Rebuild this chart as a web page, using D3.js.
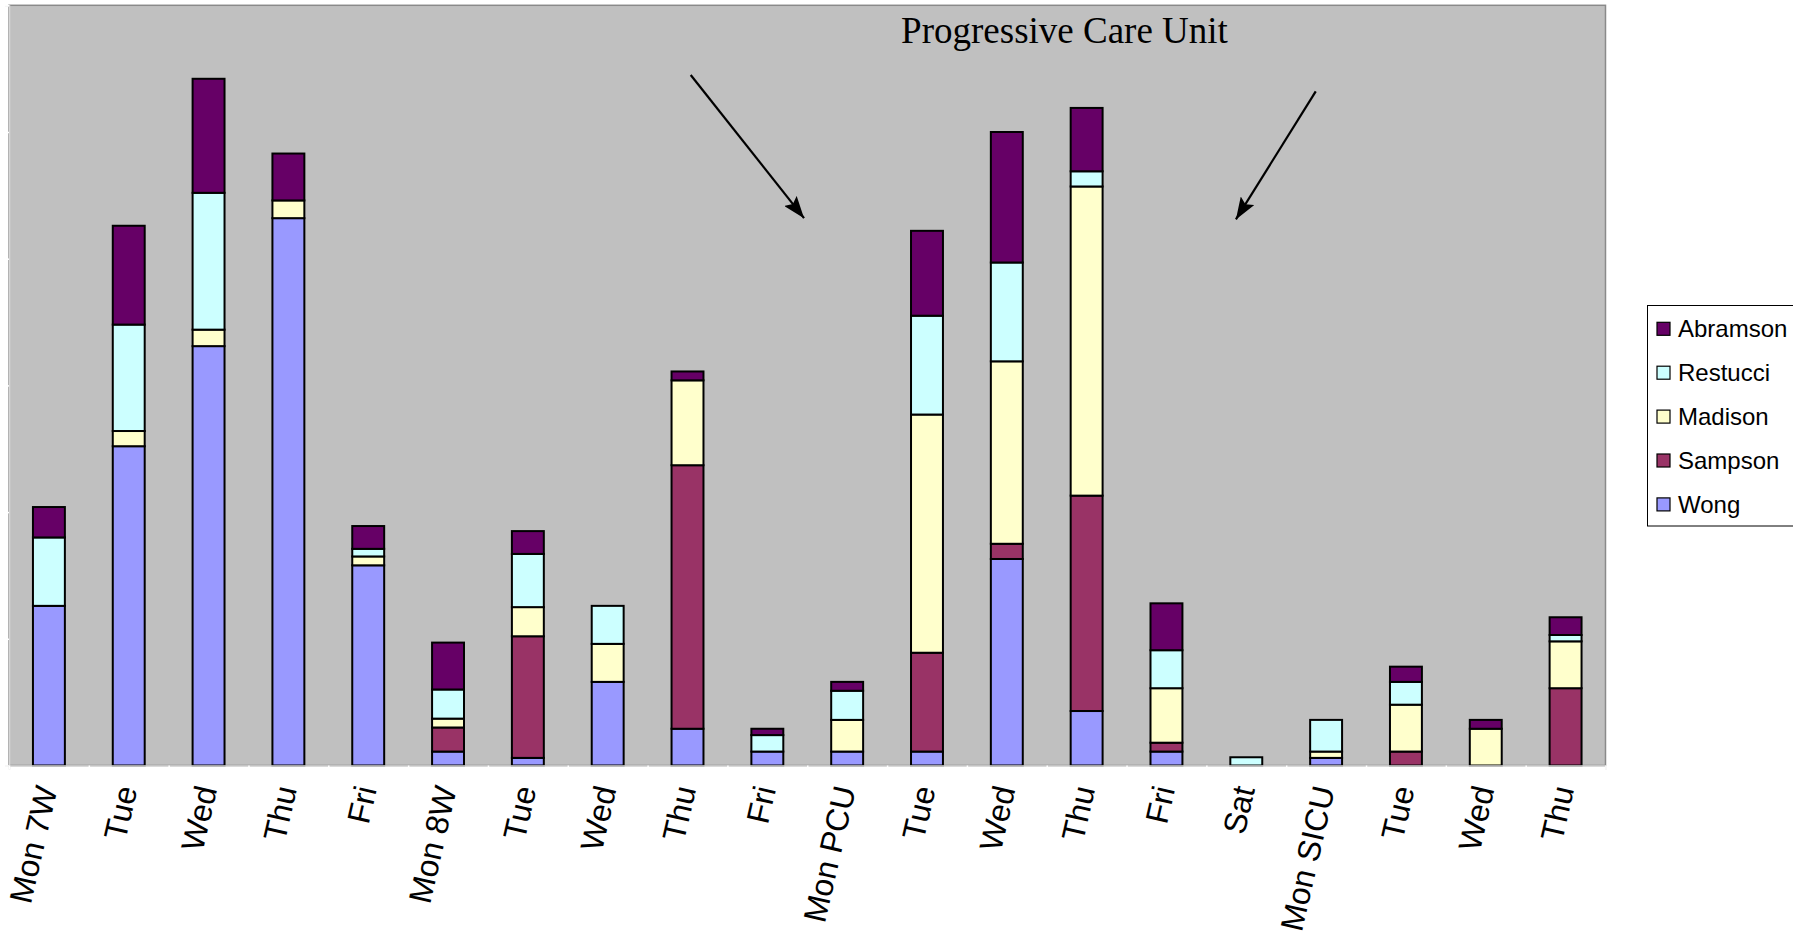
<!DOCTYPE html>
<html>
<head>
<meta charset="utf-8">
<script src="https://cdn.jsdelivr.net/npm/d3@7"></script>
<style>
  body { margin: 0; background: #ffffff; }
  svg { display: block; }
</style>
</head>
<body>
<svg id="chart" width="1793" height="939"></svg>
<script>
// Days on each unit (7W, 8W, PCU, SICU)
const categories = ["Mon 7W", "Tue", "Wed", "Thu", "Fri",
                    "Mon 8W", "Tue", "Wed", "Thu", "Fri",
                    "Mon PCU", "Tue", "Wed", "Thu", "Fri", "Sat",
                    "Mon SICU", "Tue", "Wed", "Thu"];

// Stack order, bottom to top
const seriesNames = ["Wong", "Sampson", "Madison", "Restucci", "Abramson"];

const wong     = [1.26, 2.52, 3.31, 4.32, 1.58, 0.11, 0.06, 0.66, 0.29, 0.11, 0.11, 0.11, 1.63, 0.43, 0.11, 0,     0.06, 0,    0,    0];
const sampson  = [0,    0,    0,    0,    0,    0.19, 0.96, 0,    2.08, 0,    0,    0.78, 0.12, 1.70, 0.07, 0,     0,    0.11, 0,    0.61];
const madison  = [0,    0.12, 0.13, 0.14, 0.07, 0.07, 0.23, 0.30, 0.67, 0,    0.25, 1.88, 1.44, 2.44, 0.43, 0,     0.05, 0.37, 0.29, 0.37];
const restucci = [0.54, 0.84, 1.08, 0,    0.06, 0.23, 0.42, 0.30, 0,    0.13, 0.23, 0.78, 0.78, 0.12, 0.30, 0.065, 0.25, 0.18, 0,    0.05];
const abramson = [0.24, 0.78, 0.90, 0.37, 0.18, 0.37, 0.18, 0,    0.07, 0.05, 0.07, 0.67, 1.03, 0.50, 0.37, 0,     0,    0.12, 0.07, 0.14];

const yTicks = [0, 1, 2, 3, 4, 5, 6];
const titleText = "Progressive Care Unit";

// Annotation arrows in chart units: [category position, value]
const arrowFrom = [[8.54, 5.45], [16.37, 5.32]];
const arrowTo   = [[9.96, 4.32], [15.37, 4.31]];

const colors = {
  Wong: "#9999FF",
  Sampson: "#993366",
  Madison: "#FFFFCC",
  Restucci: "#CCFFFF",
  Abramson: "#660066"
};

const seriesValues = { Wong: wong, Sampson: sampson, Madison: madison, Restucci: restucci, Abramson: abramson };
const rows = categories.map((c, i) => {
  const r = { index: i, label: c };
  seriesNames.forEach(s => { r[s] = seriesValues[s][i]; });
  return r;
});

const svg = d3.select("#chart");
const plot = { left: 9, right: 1605.5, top: 5.3, bottom: 765.5 };

const x = d3.scaleBand()
  .domain(d3.range(categories.length))
  .range([plot.left, plot.right])
  .paddingInner(0.6)
  .paddingOuter(0.3);

const xPos = d3.scaleLinear()
  .domain([0, categories.length])
  .range([plot.left, plot.right]);

const y = d3.scaleLinear()
  .domain([0, 6])
  .range([plot.bottom, plot.top]);

// Plot area
svg.append("rect")
  .attr("x", plot.left)
  .attr("y", plot.top)
  .attr("width", plot.right - plot.left)
  .attr("height", plot.bottom - plot.top)
  .attr("fill", "#C0C0C0")
  .attr("stroke", "#8a8a8a")
  .attr("stroke-width", 1.5);

// Stacked bars
const stacked = d3.stack().keys(seriesNames)(rows);

svg.append("g")
  .selectAll("g")
  .data(stacked)
  .join("g")
  .attr("fill", d => colors[d.key])
  .selectAll("rect")
  .data(d => d.filter(seg => seg[1] - seg[0] > 0))
  .join("rect")
  .attr("x", d => x(d.data.index))
  .attr("y", d => y(d[1]))
  .attr("width", x.bandwidth())
  .attr("height", d => y(d[0]) - y(d[1]))
  .attr("stroke", "#000")
  .attr("stroke-width", 2);

// Axes (light lines with white tick marks, no value labels)
const yAxis = svg.append("g")
  .attr("transform", `translate(${plot.left},0)`)
  .call(d3.axisLeft(y).tickValues(yTicks).tickSize(4).tickFormat(""));
yAxis.select(".domain").attr("stroke", "#d6d6d6").attr("stroke-width", 1.5);
yAxis.selectAll(".tick line").attr("stroke", "#ffffff").attr("stroke-width", 1.5);

const xAxis = svg.append("g")
  .attr("transform", `translate(0,${plot.bottom})`)
  .call(d3.axisBottom(xPos).tickValues(d3.range(0, categories.length + 1)).tickSize(4).tickFormat(""));
xAxis.select(".domain").attr("stroke", "#d6d6d6").attr("stroke-width", 1.5);
xAxis.selectAll(".tick line").attr("stroke", "#ffffff").attr("stroke-width", 1.5);

// Category labels, rotated
svg.append("g")
  .selectAll("text")
  .data(rows)
  .join("text")
  .attr("transform", d => `translate(${x(d.index) + x.bandwidth() / 2 - 2},${plot.bottom + 21}) rotate(-77)`)
  .attr("text-anchor", "end")
  .attr("dominant-baseline", "central")
  .attr("font-family", "'Liberation Sans', Arial, sans-serif")
  .attr("font-size", 32)
  .attr("fill", "#000")
  .text(d => d.label);

// Title
svg.append("text")
  .attr("x", 1064.5)
  .attr("y", 43)
  .attr("text-anchor", "middle")
  .attr("font-family", "'Liberation Serif', 'Times New Roman', serif")
  .attr("font-size", 37)
  .attr("fill", "#000")
  .text(titleText);

// Arrows
const defs = svg.append("defs");
defs.append("marker")
  .attr("id", "arrowhead")
  .attr("markerUnits", "userSpaceOnUse")
  .attr("viewBox", "0 0 22 16")
  .attr("refX", 22)
  .attr("refY", 8)
  .attr("markerWidth", 22)
  .attr("markerHeight", 16)
  .attr("orient", "auto")
  .append("path")
  .attr("d", "M0,0 L22,8 L0,16 L4,8 Z")
  .attr("fill", "#000");

svg.append("g")
  .selectAll("line")
  .data(d3.range(arrowFrom.length))
  .join("line")
  .attr("x1", i => xPos(arrowFrom[i][0]))
  .attr("y1", i => y(arrowFrom[i][1]))
  .attr("x2", i => xPos(arrowTo[i][0]))
  .attr("y2", i => y(arrowTo[i][1]))
  .attr("stroke", "#000")
  .attr("stroke-width", 2.2)
  .attr("marker-end", "url(#arrowhead)");

// Legend
const legendNames = seriesNames.slice().reverse();
const legend = svg.append("g");
legend.append("rect")
  .attr("x", 1647.5)
  .attr("y", 305.5)
  .attr("width", 160)
  .attr("height", 220.5)
  .attr("fill", "#ffffff")
  .attr("stroke", "#000")
  .attr("stroke-width", 1);

const items = legend.selectAll("g.item")
  .data(legendNames)
  .join("g")
  .attr("class", "item")
  .attr("transform", (d, i) => `translate(1657,${328.8 + i * 43.9})`);

items.append("rect")
  .attr("x", 0)
  .attr("y", -6.5)
  .attr("width", 13)
  .attr("height", 13)
  .attr("fill", d => colors[d])
  .attr("stroke", "#000")
  .attr("stroke-width", 1.2);

items.append("text")
  .attr("x", 21)
  .attr("y", 0)
  .attr("dominant-baseline", "central")
  .attr("font-family", "'Liberation Sans', Arial, sans-serif")
  .attr("font-size", 24)
  .attr("fill", "#000")
  .text(d => d);
</script>
</body>
</html>
